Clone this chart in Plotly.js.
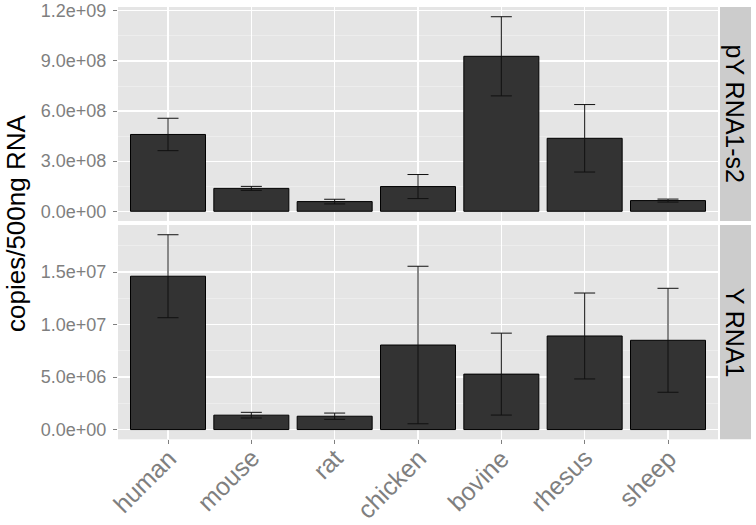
<!DOCTYPE html>
<html><head><meta charset="utf-8">
<script src="https://cdn.plot.ly/plotly-3.0.1.min.js"></script>
<style>html,body{margin:0;padding:0;background:#fff}</style>
</head><body><div id="chart" style="width:756px;height:525px"></div>
<script>
const species = ['human','mouse','rat','chicken','bovine','rhesus','sheep'];
// pY RNA1-s2 panel
const pyValues = [4.6e8, 1.37e8, 5.8e7, 1.48e8, 9.28e8, 4.37e8, 6.4e7];
const pyErrors = [9.7e7, 1.2e7, 1.4e7, 7.2e7, 2.37e8, 2.02e8, 9e6];
// Y RNA1 panel
const yValues = [1.46e7, 1.37e6, 1.27e6, 8.05e6, 5.28e6, 8.91e6, 8.5e6];
const yErrors = [3.95e6, 2.7e5, 3.0e5, 7.5e6, 3.9e6, 4.09e6, 4.95e6];
const pyTicks = [0, 3e8, 6e8, 9e8, 1.2e9];
const pyTickText = ['0.0e+00','3.0e+08','6.0e+08','9.0e+08','1.2e+09'];
const yTicks = [0, 5e6, 1e7, 1.5e7];
const yTickText = ['0.0e+00','5.0e+06','1.0e+07','1.5e+07'];
const facetLabels = ['pY RNA1-s2','Y RNA1'];
const yAxisTitle = 'copies/500ng RNA';

const W = 756, H = 525;
const font = 'Liberation Sans, Arial, Helvetica, sans-serif';
const px = v => v / W;
const py = v => (H - v) / H;

function expandRange(vals, errs) {
  const m = Math.max(...vals.map((v, i) => v + errs[i]));
  return [-0.05 * m, 1.05 * m];
}

function barTrace(vals, errs, xa, ya) {
  return {
    type: 'bar', x: species, y: vals, xaxis: xa, yaxis: ya,
    width: 0.9,
    marker: {color: '#333333', line: {color: '#000000', width: 1}},
    error_y: {type: 'data', array: errs, visible: true, color: '#111111', thickness: 1, width: 10.5},
    hoverinfo: 'x+y', showlegend: false
  };
}

const data = [
  barTrace(pyValues, pyErrors, 'x2', 'y2'),
  barTrace(yValues, yErrors, 'x', 'y')
];

const xDomain = [px(118), px(718)];
const topDomain = [py(221), py(7)];
const botDomain = [py(439.3), py(225)];

const yCommon = {
  showgrid: true, gridcolor: '#FFFFFF', gridwidth: 1.2, zeroline: false,
  ticks: 'outside', ticklen: 4, tickwidth: 1, tickcolor: '#7F7F7F',
  tickfont: {family: font, size: 18, color: '#7F7F7F'}, ticklabelstandoff: 3,
  showline: false, tickmode: 'array', fixedrange: true
};

// category labels (rotated like ggplot's axis.text.x angle=45, hjust=1)
const xLabelAnnotations = species.map(s => ({
  text: s, xref: 'x', yref: 'paper', x: s, y: py(441), xshift: 16,
  textangle: -45, showarrow: false, xanchor: 'right', yanchor: 'top',
  font: {family: font, size: 25, color: '#7F7F7F'}
}));

const layout = {
  width: W, height: H,
  margin: {l: 0, r: 0, t: 0, b: 0},
  paper_bgcolor: '#FFFFFF', plot_bgcolor: '#E5E5E5',
  bargap: 0,
  xaxis: {
    domain: xDomain, anchor: 'y', type: 'category', categoryorder: 'array', categoryarray: species,
    range: [-0.6, 6.6], showgrid: true, gridcolor: '#FFFFFF', gridwidth: 1.2,
    ticks: 'outside', ticklen: 4, tickcolor: '#7F7F7F', showticklabels: false, fixedrange: true
  },
  xaxis2: {
    domain: xDomain, anchor: 'y2', type: 'category', categoryorder: 'array', categoryarray: species,
    range: [-0.6, 6.6], showgrid: true, gridcolor: '#FFFFFF', gridwidth: 1.2,
    showticklabels: false, ticks: '', fixedrange: true
  },
  yaxis: Object.assign({}, yCommon, {
    domain: botDomain, anchor: 'x', range: expandRange(yValues, yErrors),
    tickvals: yTicks, ticktext: yTickText,
    minor: {tickmode: 'linear', tick0: 2.5e6, dtick: 5e6, showgrid: true, gridcolor: '#F2F2F2', gridwidth: 0.6, ticks: ''}
  }),
  yaxis2: Object.assign({}, yCommon, {
    domain: topDomain, anchor: 'x2', range: expandRange(pyValues, pyErrors),
    tickvals: pyTicks, ticktext: pyTickText,
    minor: {tickmode: 'linear', tick0: 1.5e8, dtick: 3e8, showgrid: true, gridcolor: '#F2F2F2', gridwidth: 0.6, ticks: ''}
  }),
  shapes: [
    {type: 'rect', xref: 'paper', yref: 'paper', x0: px(720), x1: px(751), y0: topDomain[0], y1: topDomain[1], fillcolor: '#CCCCCC', line: {width: 0}, layer: 'below'},
    {type: 'rect', xref: 'paper', yref: 'paper', x0: px(720), x1: px(751), y0: botDomain[0], y1: botDomain[1], fillcolor: '#CCCCCC', line: {width: 0}, layer: 'below'}
  ],
  annotations: [
    {text: facetLabels[0], xref: 'paper', yref: 'paper', x: px(734.5), y: (topDomain[0] + topDomain[1]) / 2, textangle: 90, showarrow: false, xanchor: 'center', yanchor: 'middle', font: {family: font, size: 25, color: '#000000'}},
    {text: facetLabels[1], xref: 'paper', yref: 'paper', x: px(734.5), y: (botDomain[0] + botDomain[1]) / 2, textangle: 90, showarrow: false, xanchor: 'center', yanchor: 'middle', font: {family: font, size: 25, color: '#000000'}},
    {text: yAxisTitle, xref: 'paper', yref: 'paper', x: px(16), y: py(224), textangle: -90, showarrow: false, xanchor: 'center', yanchor: 'middle', font: {family: font, size: 26, color: '#000000'}}
  ].concat(xLabelAnnotations)
};

Plotly.newPlot('chart', data, layout, {displayModeBar: false, staticPlot: true});
</script></body></html>
